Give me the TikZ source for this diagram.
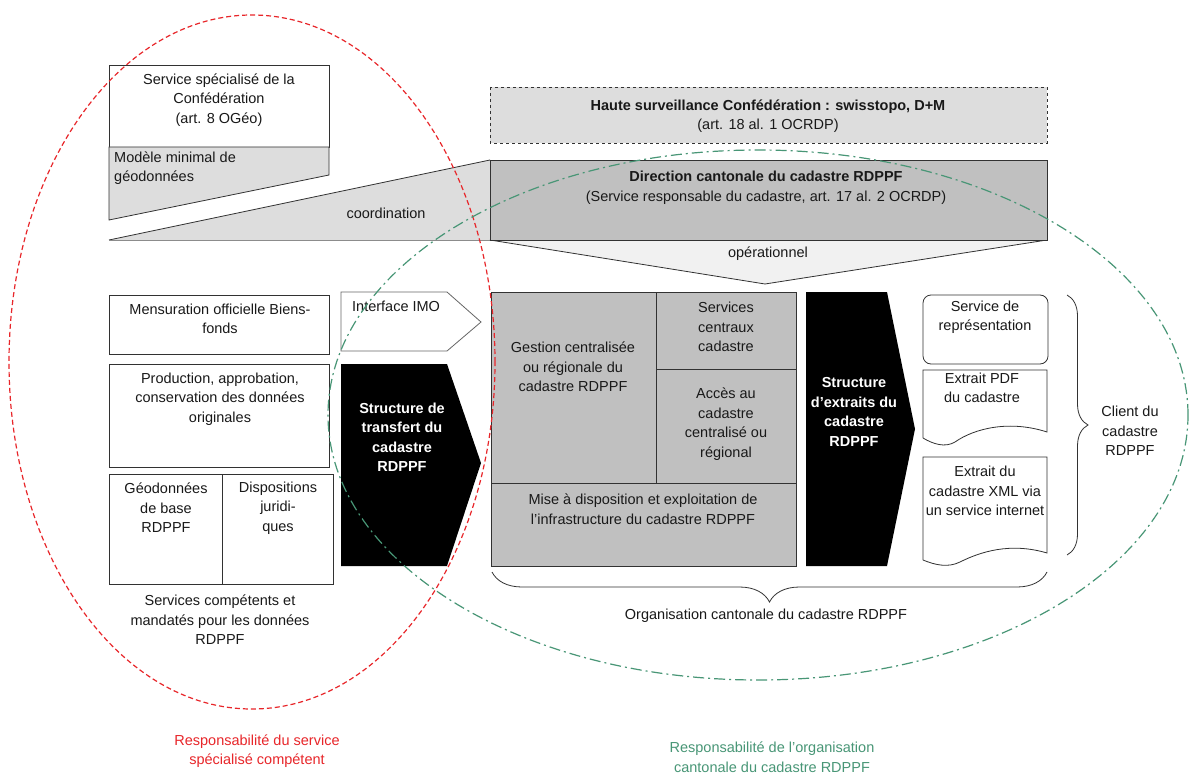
\documentclass[tikz,border=0pt]{standalone}
\usepackage{fontspec}
\setmainfont{Liberation Sans}
\usetikzlibrary{decorations.pathreplacing}
\definecolor{lg}{RGB}{221,221,221}
\definecolor{mg}{RGB}{192,192,192}
\definecolor{vlg}{RGB}{241,241,241}
\definecolor{bd}{RGB}{50,50,50}
\definecolor{rr}{RGB}{232,38,42}
\definecolor{gg}{RGB}{72,150,118}
\begin{document}
\begin{tikzpicture}[x=1pt,y=-1pt,
  txt/.style={font=\fontsize{14.5}{19.5}\selectfont, align=center, inner sep=0pt, text=black!90},
  wtxt/.style={txt, text=white, font=\fontsize{14.5}{19.5}\selectfont\bfseries},
  boxline/.style={draw=bd, line width=0.8pt},
  reddash/.style={draw=rr, line width=1.2pt, dash pattern=on 5pt off 3pt},
  greendash/.style={draw=gg, line width=1.2pt, dash pattern=on 11pt off 4pt on 2pt off 4pt},
  bracestyle/.style={draw=bd, line width=0.8pt, decorate},
]
\useasboundingbox (0,0) rectangle (1189,773);
\fill[white] (0,0) rectangle (1189,773);

% ---- top left
\draw[boxline, fill=white] (109,65) rectangle (329,147);
\draw[boxline, fill=lg] (109,147) -- (329,147) -- (329,175) -- (109,220) -- cycle;
\fill[lg] (109,240) -- (490,160) -- (490,240) -- cycle;
\draw[draw=bd, line width=0.8pt] (490,160) -- (109,240);
\draw[draw=black!45, line width=0.8pt] (109,240) -- (490,240);

% ---- top right
\draw[draw=bd, line width=0.8pt, dashed, fill=lg] (490,87) rectangle (1047,143);
\draw[boxline, fill=vlg] (490,240) -- (1047,240) -- (765,284) -- cycle;
\draw[boxline, fill=mg] (490,160) rectangle (1047,240);

% ---- left column
\draw[boxline, fill=white] (109,295) rectangle (329,354);
\draw[boxline, fill=white] (109,364) rectangle (329,467);
\draw[boxline, fill=white] (109,474) rectangle (333,584);
\draw[boxline] (222,474) -- (222,584);

% ---- arrows
\draw[draw=black!60, line width=0.8pt, fill=white] (341,292) -- (447,292) -- (481,322) -- (447,351) -- (341,351) -- cycle;
\fill[black] (341,364) -- (447,364) -- (481,463) -- (447,566) -- (341,566) -- cycle;

% ---- grey block
\draw[boxline, fill=mg] (491,292) rectangle (796,566);
\draw[boxline] (656,292) -- (656,483);
\draw[boxline] (656,369) -- (796,369);
\draw[boxline] (491,483) -- (796,483);

\fill[black] (806,292) -- (887,292) -- (915,429) -- (887,566) -- (806,566) -- cycle;

% ---- right column
\draw[boxline, fill=white, rounded corners=8pt] (923,295) rectangle (1048,364);
\draw[boxline, fill=white] (923,438) -- (923,370) -- (1047,370) -- (1047,432)
   .. controls (1010,420) and (975,428) .. (955,442)
   .. controls (945,448) and (933,444) .. (923,438);
\draw[boxline, fill=white] (923,560) -- (923,457) -- (1047,457) -- (1047,553)
   .. controls (1010,542) and (980,552) .. (960,562)
   .. controls (948,568) and (935,565) .. (923,560);

% ---- braces
\draw[bracestyle, decoration={brace, amplitude=21pt}] (1067,295) -- (1067,555);
\draw[bracestyle, decoration={brace, amplitude=30pt}] (1047,572) -- (492,572);

% ---- texts
\node[txt] (ssc) at (219,100) {Service spécialisé de la\\Confédération\\(art. 8 OGéo)};
\node[txt, align=left, anchor=west] (mmg) at (114,168) {Modèle minimal de\\géodonnées};
\node[txt] (coord) at (386,213) {coordination};
\node[txt] (haute) at (768,116) {\textbf{Haute surveillance Confédération : swisstopo, D+M}\\(art. 18 al. 1 OCRDP)};
\node[txt] (dir) at (766,188) {\textbf{Direction cantonale du cadastre RDPPF}\\(Service responsable du cadastre, art. 17 al. 2 OCRDP)};
\node[txt] (oper) at (768,254) {opérationnel};
\node[txt] (mens) at (220,319) {Mensuration officielle Biens-\\fonds};
\node[txt] (prod) at (220,399) {Production, approbation,\\conservation des données\\originales};
\node[txt] (geo) at (166,508) {Géodonnées\\de base\\RDPPF};
\node[txt] (disp) at (278,508) {Dispositions\\juridi-\\ques};
\node[txt] (serv) at (220,620) {Services compétents et\\mandatés pour les données\\RDPPF};
\node[txt, anchor=west] (imo) at (352,306) {Interface IMO};
\node[wtxt] (transf) at (402,437) {Structure de\\transfert du\\cadastre\\RDPPF};
\node[txt] (gest) at (573,367) {Gestion centralisée\\ou régionale du\\cadastre RDPPF};
\node[txt] (scent) at (726,327) {Services\\centraux\\cadastre};
\node[txt] (acces) at (726,424) {Accès au\\cadastre\\centralisé ou\\régional};
\node[txt] (mise) at (643,509) {Mise à disposition et exploitation de\\l'infrastructure du cadastre RDPPF};
\node[wtxt] (extr) at (854,412) {Structure\\d’extraits du\\cadastre\\RDPPF};
\node[txt] (rep) at (985,317) {Service de\\représentation};
\node[txt] (pdf) at (982,388) {Extrait PDF\\du cadastre};
\node[txt] (xml) at (985,491) {Extrait du\\cadastre XML via\\un service internet};
\node[txt] (client) at (1130,431) {Client du\\cadastre\\RDPPF};
\node[txt] (orga) at (766,616) {Organisation cantonale du cadastre RDPPF};
\node[txt, text=rr] (respr) at (257,751) {Responsabilité du service\\spécialisé compétent};
\node[txt, text=gg] (respg) at (772,757) {Responsabilité de l’organisation\\cantonale du cadastre RDPPF};

% ---- ellipses
\draw[reddash] (252,362) ellipse [x radius=243pt, y radius=347pt];
\draw[greendash] (758,415) ellipse [x radius=430pt, y radius=265pt];
\end{tikzpicture}
\end{document}
